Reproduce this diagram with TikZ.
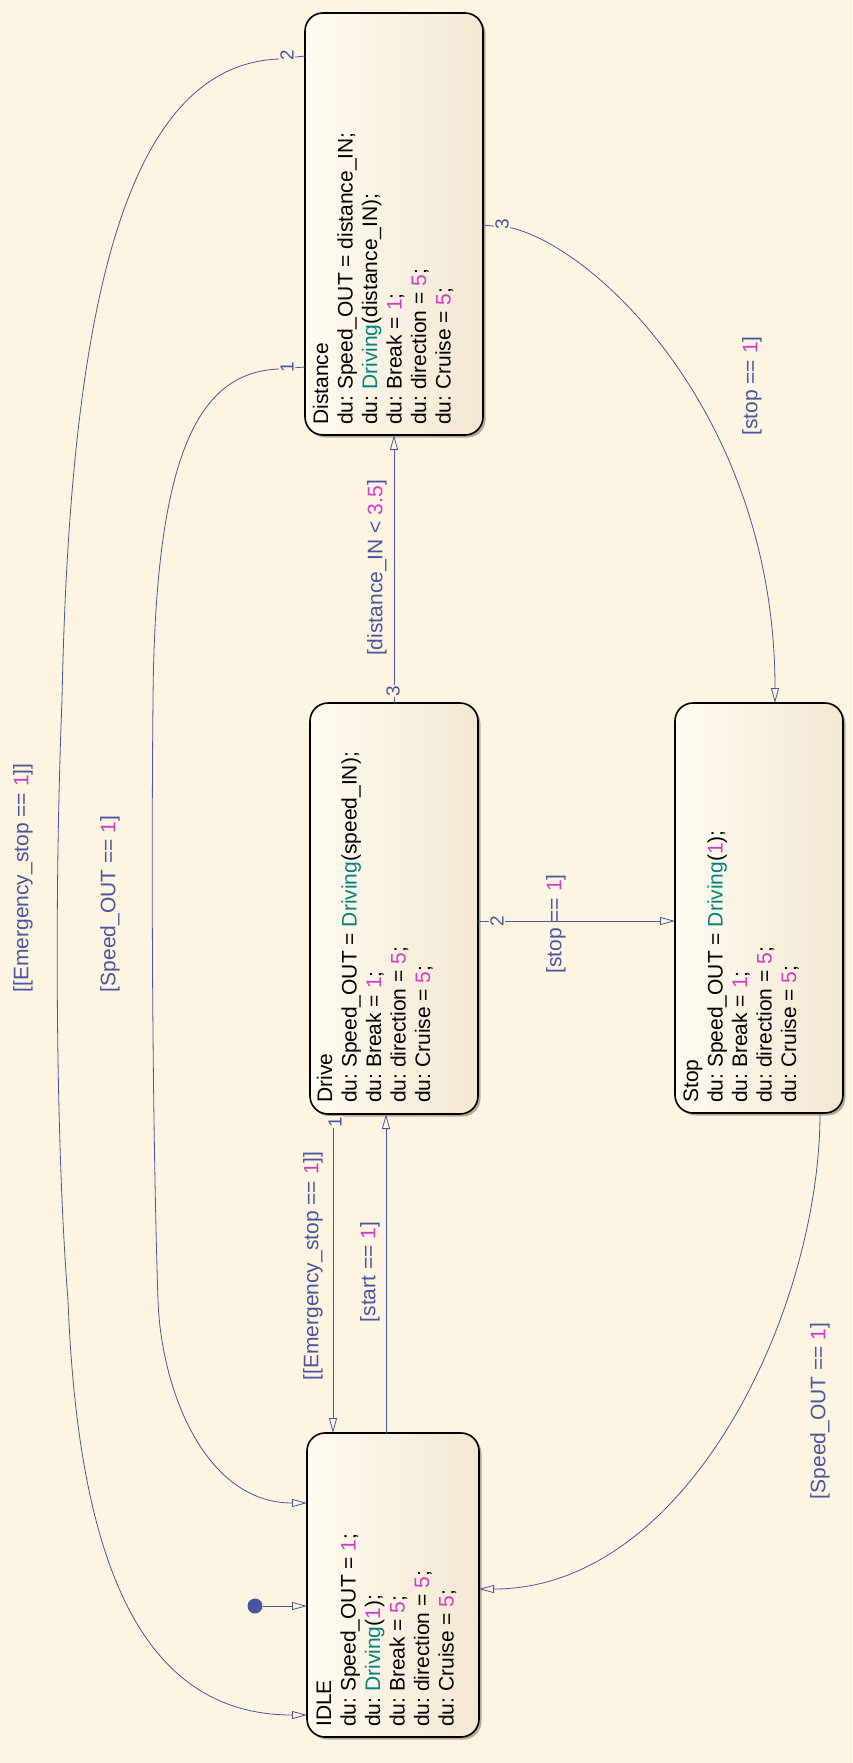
\documentclass[tikz,border=0pt]{standalone}
\usepackage{fontspec}
\setmainfont{Liberation Sans}
\usetikzlibrary{arrows.meta,shadows,calc}
\definecolor{bg}{HTML}{FDF4E1}
\definecolor{tcol}{HTML}{4A55A2}
\definecolor{numc}{HTML}{D23CC8}
\definecolor{fnc}{HTML}{00827F}
\definecolor{boxl}{HTML}{FFFBF0}
\definecolor{boxr}{HTML}{F2E7D2}
\newcommand{\nm}[1]{\textcolor{numc}{#1}}
\newcommand{\fn}[1]{\textcolor{fnc}{#1}}
\frenchspacing
\begin{document}
\begin{tikzpicture}[x=1pt,y=-1pt,
  sbox/.style={draw=black, line width=1.6pt, rounded corners=18pt, left color=boxl, right color=boxr,
    drop shadow={shadow xshift=2.5pt, shadow yshift=-2.5pt, opacity=.3, fill=black},
    inner sep=0pt, outer sep=0pt, anchor=north west},
  stext/.style={rotate=90, anchor=base west, align=left, inner sep=0pt, font=\fontsize{21}{24.5}\selectfont},
  trans/.style={draw=tcol, line width=0.8pt, -{Triangle[open,length=15pt,width=8pt]}},
  tlab/.style={rotate=90, text=tcol, inner sep=0pt, font=\fontsize{21}{24}\selectfont},
  tnum/.style={rotate=90, text=tcol, fill=bg, inner sep=1pt, font=\fontsize{19}{20}\selectfont}
]
\path[use as bounding box, fill=bg] (0,0) rectangle (852,1763);

% states
\node[sbox, minimum width=178pt, minimum height=422pt] (dist) at (305,13) {};
\node[sbox, minimum width=168pt, minimum height=411pt] (drive) at (310,703) {};
\node[sbox, minimum width=168pt, minimum height=410pt] (stop) at (675,703) {};
\node[sbox, minimum width=172pt, minimum height=304pt] (idle) at (307,1433) {};

% state texts (anchor = baseline of the last line)
\node[stext] (disttxt) at ($(dist.south west)+(145.5,-10)$) {Distance\\du: Speed\_OUT = distance\_IN;\\du: \fn{Driving}(distance\_IN);\\du: Break = \nm{1};\\du: direction = \nm{5};\\du: Cruise = \nm{5};};
\node[stext] (drivetxt) at ($(drive.south west)+(120,-11)$) {Drive\\du: Speed\_OUT = \fn{Driving}(speed\_IN);\\du: Break = \nm{1};\\du: direction = \nm{5};\\du: Cruise = \nm{5};};
\node[stext] (stoptxt) at ($(stop.south west)+(121,-10)$) {Stop\\du: Speed\_OUT = \fn{Driving}(\nm{1});\\du: Break = \nm{1};\\du: direction = \nm{5};\\du: Cruise = \nm{5};};
\node[stext] (idletxt) at ($(idle.south west)+(146.5,-10)$) {IDLE\\du: Speed\_OUT = \nm{1};\\du: \fn{Driving}(\nm{1});\\du: Break = \nm{5};\\du: direction = \nm{5};\\du: Cruise = \nm{5};};

% default transition
\node[circle, fill=tcol, minimum size=15pt, inner sep=0pt] (init) at (255,1606) {};
\draw[trans] (init) -- (init -| idle.west);

% coordinates on state borders
\coordinate (e1) at ($(drive.south west)+(23,0)$);
\coordinate (s1) at ($(idle.north west)+(79,0)$);
\coordinate (d3) at ($(drive.north west)+(84,0)$);
\coordinate (ds) at ($(drive.north east)+(0,218)$);
\coordinate (dst) at ($(dist.north east)+(0,212)$);
\coordinate (stopin) at ($(stop.north west)+(100,0)$);
\coordinate (so) at ($(stop.south west)+(145,0)$);
\coordinate (ii) at ($(idle.north east)+(0,156)$);
\coordinate (d1) at ($(dist.north west)+(0,354)$);
\coordinate (i1) at ($(idle.north west)+(0,70)$);
\coordinate (d2) at ($(dist.north west)+(0,43)$);
\coordinate (i2) at ($(idle.north west)+(0,282)$);

% transitions
\draw[trans] (e1) -- (e1 |- idle.north);
\draw[trans] (s1) -- (s1 |- drive.south);
\draw[trans] (d3) -- (d3 |- dist.south);
\draw[trans] (ds) -- (ds -| stop.west);
\draw[trans] (dst) -- (512,228) .. controls (600,250) and (775,420) .. (stopin);
\draw[trans] (so) .. controls (820,1310) and (688,1589) .. (ii);
\draw[trans] (d1) -- (279,369) .. controls (200,372) and (155,450) .. (153,700)
   .. controls (151,900) and (153,1150) .. (158,1300)
   .. controls (161,1390) and (205,1503) .. (i1);
\draw[trans] (d2) -- (279,59) .. controls (127,65) and (70,300) .. (62,700)
   .. controls (54,900) and (56,1150) .. (68,1300)
   .. controls (78,1560) and (140,1715) .. (i2);

% execution order numbers
\node[tnum] (n2a) at (287,55) {2};
\node[tnum] (n1a) at (287,367) {1};
\node[tnum] (n3a) at (502,224) {3};
\node[tnum] (n2b) at (497,921) {2};
\node[tnum] (n3b) at (393,691) {3};
\node[tnum] (n1b) at (335,1122) {1};

% labels
\node[tlab] (l1) at (377,568) {[distance\_IN < \nm{3.5}]};
\node[tlab] (l2) at (313,1266) {[[Emergency\_stop == \nm{1}]]};
\node[tlab] (l3) at (370,1272) {[start == \nm{1}]};
\node[tlab] (l4) at (556,924) {[stop == \nm{1}]};
\node[tlab] (l5) at (752,386) {[stop == \nm{1}]};
\node[tlab] (l6) at (820,1411) {[Speed\_OUT == \nm{1}]};
\node[tlab] (l7) at (110,904) {[Speed\_OUT == \nm{1}]};
\node[tlab] (l8) at (23,878) {[[Emergency\_stop == \nm{1}]]};
\end{tikzpicture}
\end{document}
